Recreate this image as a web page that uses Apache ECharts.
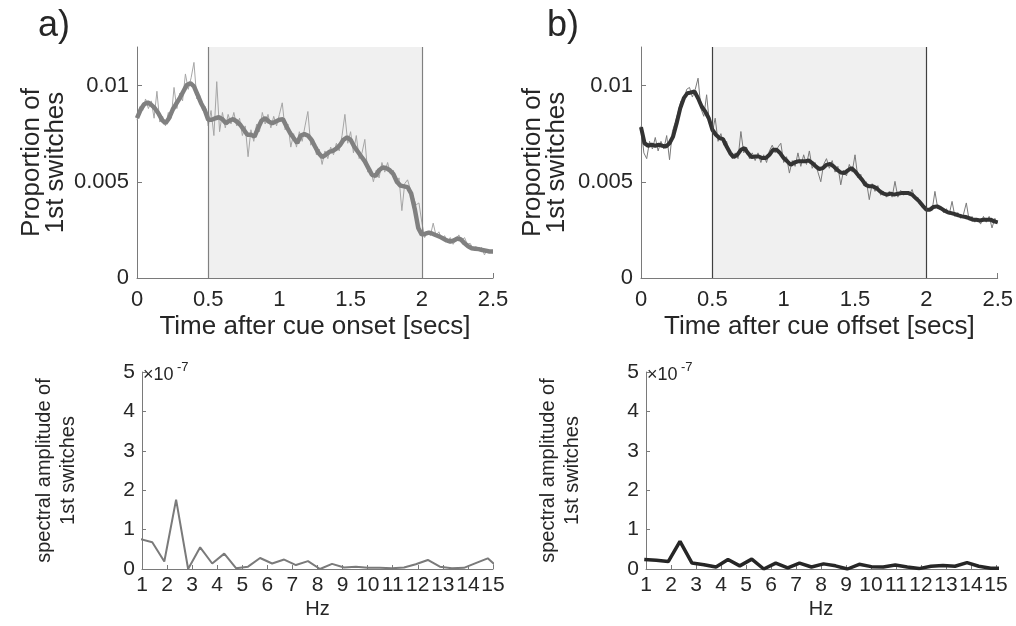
<!DOCTYPE html>
<html>
<head>
<meta charset="utf-8">
<script src="https://cdn.jsdelivr.net/npm/echarts@6/dist/echarts.min.js"></script>
<style>
  html, body { margin: 0; padding: 0; background: #fff; }
  #chart { width: 1016px; height: 626px; }
</style>
</head>
<body>
<div id="chart"></div>
<script>
// proportion of 1st switches, in units of 1e-3, sampled every 0.02 s (thin raw traces)
const rawStep = 0.02
const onsetRaw = [
  8.2, 8.9, 8.7, 9.3, 8.8, 9.2, 8.3, 9.7, 8.1, 8.4,
  7.9, 8.6, 8.3, 9.9, 8.8, 9.6, 9.2, 10.6, 9.8, 10.4,
  11.2, 9.3, 9.5, 8.7, 8.9, 7.9, 8.7, 7.4, 10.2, 7.6,
  8.6, 7.8, 8.5, 8.0, 8.6, 7.9, 8.3, 7.4, 7.9, 6.3,
  7.7, 7.1, 8.0, 7.6, 8.6, 8.0, 8.5, 7.8, 8.4, 7.9,
  8.5, 9.1, 7.7, 8.0, 6.8, 7.5, 6.8, 7.6, 7.1, 7.9,
  8.65, 6.9, 7.2, 6.4, 6.7, 5.9, 6.6, 6.2, 6.8, 6.4,
  7.0, 6.6, 7.4, 8.5, 7.0, 7.6, 6.5, 7.4, 6.2, 6.5,
  7.2, 5.5, 5.7, 5.0, 5.6, 5.2, 6.0, 5.5, 6.0, 5.4,
  5.6, 4.9, 5.2, 3.5, 4.9, 5.1, 4.6, 4.2, 3.8, 3.9,
  2.9, 2.1, 2.4, 2.2, 2.85, 2.2, 2.4, 2.0, 2.2, 1.9,
  2.1, 1.75, 2.0, 2.24, 1.95, 2.1, 1.75, 1.8, 1.5, 1.65,
  1.45, 1.6, 1.2, 1.5, 1.35, 1.45
]
const offsetRaw = [
  7.9, 6.5, 6.2, 7.1, 6.7, 7.3, 6.6, 7.1, 6.7, 7.4,
  6.14, 7.6, 8.1, 8.6, 9.2, 9.2, 9.8, 9.9, 9.4, 9.8,
  10.38, 8.8, 8.4, 9.52, 8.0, 7.6, 8.3, 7.1, 7.5, 6.9,
  7.1, 6.4, 6.2, 6.5, 6.2, 7.61, 6.5, 6.8, 6.2, 6.5,
  6.1, 6.5, 6.0, 6.4, 6.0, 6.6, 6.9, 6.5, 6.8, 7.0,
  6.0, 6.3, 5.45, 6.1, 5.8, 6.5, 5.8, 6.4, 5.9, 6.6,
  5.7, 6.0, 5.5, 5.0, 5.9, 6.2, 5.7, 6.1, 5.5, 5.8,
  4.84, 5.6, 5.3, 5.9, 5.5, 6.4, 5.2, 5.4, 4.8, 5.0,
  4.07, 4.9, 4.5, 4.8, 4.3, 4.5, 4.2, 4.5, 4.2, 5.02,
  4.2, 4.55, 4.3, 4.5, 4.3, 4.6, 4.1, 4.2, 3.8, 3.7,
  3.5, 3.6, 3.5, 4.5, 3.6, 3.7, 3.4, 3.6, 3.3, 3.98,
  3.2, 3.4, 3.1, 3.3, 3.9, 3.0, 3.2, 2.9, 3.1, 2.8,
  3.2, 2.9, 3.2, 2.6, 3.1, 2.85
]

// smoothed traces (thick), every 0.025 s
const smoothStep = 0.025
const onsetSmooth = [
  8.3, 8.74, 9.03, 9.12, 9.0, 8.82, 8.56, 8.22, 8.04, 8.3,
  8.74, 9.05, 9.34, 9.69, 10.03, 10.12, 9.95, 9.52, 9.08, 8.74,
  8.22, 8.22, 8.3, 8.35, 8.25, 8.04, 8.18, 8.25, 8.13, 7.96,
  7.7, 7.44, 7.44, 7.35, 7.79, 8.18, 8.3, 8.13, 8.04, 8.13,
  8.22, 8.25, 7.87, 7.53, 7.27, 7.01, 7.4, 7.47, 7.4, 7.18,
  6.83, 6.49, 6.28, 6.4, 6.55, 6.6, 6.72, 6.9, 7.18, 7.3,
  7.18, 6.83, 6.57, 6.31, 6.06, 5.71, 5.36, 5.3, 5.6, 5.74,
  5.71, 5.6, 5.4, 5.0, 4.8, 4.76, 4.72, 4.4, 3.6, 2.6,
  2.25, 2.3, 2.36, 2.3, 2.22, 2.15, 2.05, 1.95, 1.89, 1.95,
  2.05, 2.0, 1.8, 1.65, 1.55, 1.52, 1.5, 1.45, 1.42, 1.38,
  1.38
]
const offsetSmooth = [
  7.84, 7.0, 6.87, 6.92, 6.87, 6.92, 6.87, 6.83, 7.0, 7.35,
  8.04, 8.82, 9.34, 9.6, 9.64, 9.69, 9.34, 8.91, 8.65, 8.3,
  7.7, 7.44, 7.27, 7.21, 6.83, 6.49, 6.28, 6.4, 6.66, 6.75,
  6.49, 6.28, 6.31, 6.31, 6.23, 6.23, 6.4, 6.66, 6.66, 6.49,
  6.23, 6.06, 5.88, 6.0, 6.06, 6.06, 6.06, 6.11, 5.97, 5.8,
  5.66, 5.71, 5.88, 5.93, 5.8, 5.62, 5.48, 5.45, 5.59, 5.71,
  5.54, 5.31, 5.1, 4.84, 4.76, 4.76, 4.67, 4.5, 4.38, 4.33,
  4.38, 4.33, 4.38, 4.41, 4.41, 4.41, 4.33, 4.15, 3.98, 3.75,
  3.55, 3.55, 3.69, 3.72, 3.63, 3.51, 3.41, 3.37, 3.32, 3.25,
  3.2, 3.17, 3.11, 3.03, 3.03, 2.99, 3.03, 3.03, 3.03, 2.94,
  2.89
]

// spectral amplitude (x 1e-7) against frequency in Hz
const freqs = [
  0.93, 1.41, 1.89, 2.36, 2.84, 3.32, 3.80, 4.28, 4.75, 5.23,
  5.71, 6.19, 6.67, 7.14, 7.62, 8.10, 8.58, 9.06, 9.53, 10.01,
  10.49, 10.97, 11.45, 11.92, 12.40, 12.88, 13.36, 13.84, 14.31, 14.79,
  15.27
]
const onsetSpec = [
  0.76, 0.68, 0.19, 1.76, 0.0, 0.55, 0.14, 0.39, 0.02, 0.06,
  0.28, 0.14, 0.24, 0.10, 0.20, 0.0, 0.13, 0.04, 0.06, 0.03,
  0.03, 0.02, 0.04, 0.12, 0.23, 0.06, 0.02, 0.03, 0.15, 0.27,
  0.0
]
const offsetSpec = [
  0.24, 0.22, 0.19, 0.70, 0.15, 0.11, 0.05, 0.24, 0.08, 0.25,
  0.0, 0.15, 0.03, 0.15, 0.05, 0.13, 0.08, 0.0, 0.12, 0.06,
  0.05, 0.10, 0.05, 0.01, 0.07, 0.09, 0.07, 0.16, 0.07, 0.02,
  0.02
]

const propTicks = [0, 5, 10]
const cueWindow = [0.5, 2.0]

const FONT = '"Liberation Sans", Arial, sans-serif'
const TXT = '#262626'
const AX = '#7a7a7a'

const pairs = (vals, step) => vals.map((v, i) => [+(i * step).toFixed(3), v])
const specPairs = vals => vals.map((v, i) => [freqs[i], v])

const timeAxis = (gridIndex, name) => ({
  type: 'value', gridIndex, min: 0, max: 2.5, interval: 0.5,
  name, nameLocation: 'middle', nameGap: 36,
  nameTextStyle: { fontSize: 26, color: TXT, fontFamily: FONT },
  axisLine: { lineStyle: { color: AX, width: 1 } },
  axisTick: { inside: true, length: 5, lineStyle: { color: AX } },
  axisLabel: { fontSize: 22, color: TXT, fontFamily: FONT, margin: 11 },
  splitLine: { show: false }
})
const propAxis = (gridIndex, gap) => ({
  type: 'value', gridIndex, min: 0, max: 12,
  name: 'Proportion of\n1st switches', nameLocation: 'middle', nameGap: gap, nameRotate: 90,
  nameTextStyle: { fontSize: 26, lineHeight: 24, color: TXT, fontFamily: FONT },
  axisLine: { show: true, lineStyle: { color: AX, width: 1 } },
  axisTick: { show: true, inside: true, length: 5, customValues: propTicks, lineStyle: { color: AX } },
  axisLabel: {
    fontSize: 22, color: TXT, fontFamily: FONT, margin: 8, customValues: propTicks,
    formatter: v => (v === 0 ? '0' : String(+(v / 1000).toFixed(4)))
  },
  splitLine: { show: false }
})
const hzAxis = gridIndex => ({
  type: 'value', gridIndex, min: 1, max: 15, interval: 1,
  name: 'Hz', nameLocation: 'middle', nameGap: 30,
  nameTextStyle: { fontSize: 20, color: TXT, fontFamily: FONT },
  axisLine: { lineStyle: { color: AX, width: 1 } },
  axisTick: { inside: true, length: 4, lineStyle: { color: AX } },
  axisLabel: { fontSize: 21, color: TXT, fontFamily: FONT, margin: 6 },
  splitLine: { show: false }
})
const specAxis = (gridIndex, gap) => ({
  type: 'value', gridIndex, min: 0, max: 5, interval: 1,
  name: 'spectral amplitude of\n1st switches', nameLocation: 'middle', nameGap: gap, nameRotate: 90,
  nameTextStyle: { fontSize: 20, lineHeight: 24, color: TXT, fontFamily: FONT },
  axisLine: { show: true, lineStyle: { color: AX, width: 1 } },
  axisTick: { show: true, inside: true, length: 4, lineStyle: { color: AX } },
  axisLabel: { fontSize: 21, color: TXT, fontFamily: FONT, margin: 7 },
  splitLine: { show: false }
})

const windowMarks = color => ({
  markArea: {
    silent: true,
    itemStyle: { color: '#f0f0f0' },
    data: [[{ xAxis: cueWindow[0] }, { xAxis: cueWindow[1] }]]
  },
  markLine: {
    silent: true, symbol: 'none', animation: false,
    label: { show: false },
    lineStyle: { color, width: 1.2, type: 'solid' },
    data: cueWindow.map(x => ({ xAxis: x }))
  }
})

const line = (xi, data, color, width, z) => ({
  type: 'line', xAxisIndex: xi, yAxisIndex: xi, data,
  showSymbol: false, symbol: 'none', clip: true, z,
  lineStyle: { color, width }, animation: false
})

const chart = echarts.init(document.getElementById('chart'))
chart.setOption({
  animation: false,
  textStyle: { fontFamily: FONT },
  title: [
    { text: 'a)', left: 33, top: 3, textStyle: { fontSize: 36, fontWeight: 'normal', color: TXT, fontFamily: FONT } },
    { text: 'b)', left: 542, top: 3, textStyle: { fontSize: 36, fontWeight: 'normal', color: TXT, fontFamily: FONT } }
  ],
  grid: [
    { left: 137, top: 47, width: 356, height: 231 },
    { left: 641, top: 47, width: 357, height: 231 },
    { left: 142, top: 372, width: 351, height: 197 },
    { left: 646, top: 372, width: 350, height: 197 }
  ],
  xAxis: [
    timeAxis(0, 'Time after cue onset [secs]'),
    timeAxis(1, 'Time after cue offset [secs]'),
    hzAxis(2),
    hzAxis(3)
  ],
  yAxis: [propAxis(0, 69), propAxis(1, 72), specAxis(2, 62), specAxis(3, 62)],
  graphic: [
    { type: 'text', left: 143, top: 366, style: { text: '×10', fontSize: 18, fill: TXT, fontFamily: FONT } },
    { type: 'text', left: 177, top: 361, style: { text: '-7', fontSize: 13, fill: TXT, fontFamily: FONT } },
    { type: 'text', left: 647, top: 366, style: { text: '×10', fontSize: 18, fill: TXT, fontFamily: FONT } },
    { type: 'text', left: 681, top: 361, style: { text: '-7', fontSize: 13, fill: TXT, fontFamily: FONT } }
  ],
  series: [
    Object.assign(line(0, pairs(onsetRaw, rawStep), '#a6a6a6', 1, 2), windowMarks('#808080')),
    line(0, pairs(onsetSmooth, smoothStep), '#808080', 4.5, 3),
    Object.assign(line(1, pairs(offsetRaw, rawStep), '#7a7a7a', 1, 2), windowMarks('#404040')),
    line(1, pairs(offsetSmooth, smoothStep), '#333333', 4, 3),
    line(2, specPairs(onsetSpec), '#7a7a7a', 2, 3),
    line(3, specPairs(offsetSpec), '#262626', 3.5, 3)
  ]
})
</script>
</body>
</html>
